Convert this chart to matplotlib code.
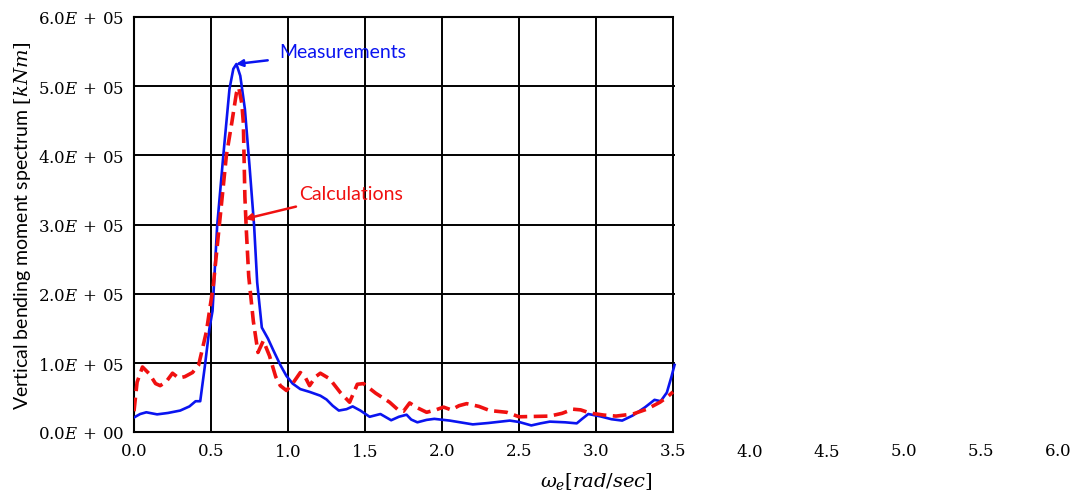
import matplotlib
matplotlib.use("Agg")
import matplotlib.pyplot as plt
import numpy as np

# ---- data ----
meas_x = [0.0, 0.04, 0.08, 0.15, 0.22, 0.30, 0.36, 0.40, 0.43, 0.46, 0.49, 0.51, 0.54, 0.58,
          0.62, 0.645, 0.665, 0.69, 0.72, 0.75, 0.78, 0.80, 0.83, 0.87, 0.905, 0.95, 0.99,
          1.03, 1.08, 1.14, 1.21, 1.25, 1.29, 1.33, 1.38, 1.42, 1.47, 1.53, 1.60, 1.67,
          1.72, 1.77, 1.80, 1.84, 1.90, 1.95, 2.05, 2.20, 2.30, 2.44, 2.50, 2.58, 2.64,
          2.70, 2.80, 2.875, 2.91, 2.95, 3.03, 3.10, 3.17, 3.24, 3.32, 3.38, 3.42, 3.46,
          3.49, 3.51]
meas_y = [21000, 26000, 28500, 25500, 27500, 31000, 37000, 44500, 44500, 95000, 150000, 175000,
          298000, 400000, 496000, 525000, 532000, 515000, 467000, 385000, 298000, 216000,
          151000, 135000, 118000, 97000, 81000, 70000, 62000, 58000, 52500, 47000, 38000,
          31000, 33000, 37000, 31000, 22000, 26000, 17000, 22000, 25000, 18000, 14000, 17500,
          19000, 16500, 11000, 13000, 16500, 14500, 9500, 12500, 15000, 14000, 12500, 19000,
          26000, 22500, 18500, 16500, 24000, 36000, 46500, 44500, 57000, 80000, 97000]

calc_x = [0.0, 0.02, 0.055, 0.10, 0.14, 0.17, 0.21, 0.25, 0.29, 0.33, 0.38, 0.42, 0.47, 0.515,
          0.55, 0.60, 0.635, 0.665, 0.68, 0.70, 0.71, 0.72, 0.73, 0.745, 0.775, 0.805, 0.84,
          0.88, 0.92, 0.95, 0.99, 1.03, 1.08, 1.11, 1.14, 1.18, 1.21, 1.27, 1.34, 1.40, 1.45,
          1.49, 1.57, 1.66, 1.72, 1.75, 1.79, 1.84, 1.90, 1.96, 2.01, 2.06, 2.11, 2.16, 2.24,
          2.31, 2.42, 2.50, 2.60, 2.70, 2.78, 2.85, 2.90, 2.96, 3.05, 3.13, 3.24, 3.33, 3.415,
          3.46, 3.50]
calc_y = [30000, 72000, 94000, 84000, 70000, 67000, 73000, 85000, 78000, 80000, 86000, 97000,
          145000, 212000, 290000, 400000, 447000, 490000, 498000, 475000, 447000, 340000,
          289000, 225000, 160000, 115000, 132000, 110000, 80000, 67000, 60000, 70000, 86000,
          80000, 67000, 80000, 85000, 77000, 57000, 43000, 69000, 70000, 56000, 43000, 31000,
          30000, 42000, 35000, 28500, 32000, 36000, 32000, 38000, 41000, 37000, 31000, 28500,
          22000, 22500, 23000, 27000, 33000, 32000, 27500, 24500, 23000, 26000, 33000, 43000,
          50000, 58000]

x_ticks = [0.0, 0.5, 1.0, 1.5, 2.0, 2.5, 3.0, 3.5, 4.0, 4.5, 5.0, 5.5, 6.0]
y_ticks = [0, 100000, 200000, 300000, 400000, 500000, 600000]
y_tick_labels = [r"$0.0E\,+\,00$", r"$1.0E\,+\,05$", r"$2.0E\,+\,05$", r"$3.0E\,+\,05$",
                 r"$4.0E\,+\,05$", r"$5.0E\,+\,05$", r"$6.0E\,+\,05$"]
box_right = 3.5

plt.rcParams['mathtext.fontset'] = 'dejavuserif'
plt.rcParams['font.family'] = ['Lato', 'DejaVu Sans']

fig = plt.figure(figsize=(10.72, 5.02), dpi=100)
ax = fig.add_axes([134 / 1072, 1 - 433 / 502, (1058 - 134) / 1072, (433 - 18) / 502])
ax.set_xlim(0, 6)
ax.set_ylim(0, 600000)

# frame / grid only up to box_right
ax.spines['right'].set_visible(False)
ax.spines['top'].set_bounds(0, box_right)
ax.spines['bottom'].set_bounds(0, box_right)
for s in ['top', 'bottom', 'left']:
    ax.spines[s].set_linewidth(1.5)
    ax.spines[s].set_color('black')
gx = [t for t in x_ticks if 0 < t <= box_right]
gy = [t for t in y_ticks if 0 < t < 600000]
ax.vlines(gx, 0, 600000, colors='black', linewidth=1.4, zorder=1)
ax.hlines(gy, 0, box_right + 0.01, colors='black', linewidth=1.4, zorder=1)

ax.plot(meas_x, meas_y, color='#0a14f0', linewidth=1.9, zorder=3)
ax.plot(calc_x, calc_y, color='#f01010', linewidth=2.6, linestyle=(0, (3.8, 1.8)), zorder=3)

ax.set_xticks(x_ticks)
ax.set_xticklabels([r"$%.1f$" % t for t in x_ticks], fontsize=12)
ax.set_yticks(y_ticks)
ax.set_yticklabels(y_tick_labels, fontsize=12)
ax.tick_params(length=0, pad=7)

ax.set_xlabel(r"$\omega_e[rad/sec]$", fontsize=14, labelpad=8)
ax.set_ylabel(r"Vertical bending moment spectrum $[kNm]$", fontsize=14, labelpad=4)

ax.annotate("Measurements", xy=(0.662, 532000), xytext=(0.94, 550000),
            color='#0a14f0', fontsize=14, va='center', ha='left',
            arrowprops=dict(arrowstyle='-|>', color='#0a14f0', lw=1.8,
                            mutation_scale=10, shrinkA=6, shrinkB=0))
ax.annotate("Calculations", xy=(0.72, 308000), xytext=(1.07, 345000),
            color='#f01010', fontsize=14, va='center', ha='left',
            arrowprops=dict(arrowstyle='-|>', color='#f01010', lw=1.8,
                            mutation_scale=10, shrinkA=6, shrinkB=0))

fig.savefig("out.png", dpi=100)
